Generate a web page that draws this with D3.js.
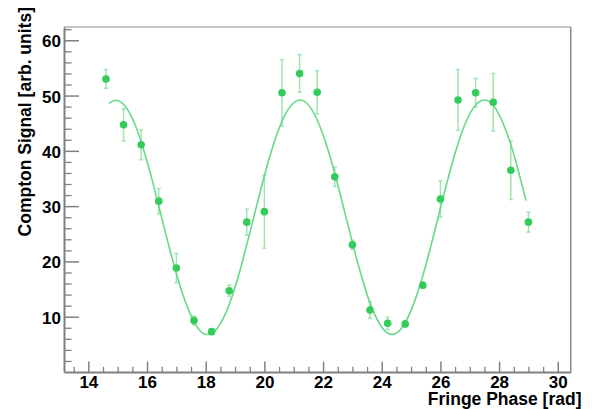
<!DOCTYPE html>
<html>
<head>
<meta charset="utf-8">
<script src="https://cdn.jsdelivr.net/npm/d3@7"></script>
<style>
  body { margin: 0; background: #fff; }
  svg { display: block; }
  .tick text { font-family: "Liberation Sans", Arial, sans-serif; font-weight: bold; font-size: 17px; fill: #000; }
</style>
</head>
<body>
<svg id="chart" width="592" height="409"></svg>
<script>
// measured points (phase in rad, signal, error)
var phase  = [14.6, 15.2, 15.8, 16.4, 17.0, 17.6, 18.2, 18.8, 19.4, 20.0, 20.6, 21.2, 21.8,
              22.4, 23.0, 23.6, 24.2, 24.8, 25.4, 26.0, 26.6, 27.2, 27.8, 28.4, 29.0];
var signal = [53.0, 44.7, 41.1, 30.9, 18.8, 9.3, 7.3, 14.7, 27.1, 29.0, 50.5, 54.0, 50.6,
              35.3, 23.0, 11.2, 8.8, 8.7, 15.7, 31.3, 49.2, 50.5, 48.8, 36.5, 27.1];
var errors = [1.7, 2.9, 2.7, 2.3, 2.65, 0.8, 0.5, 1.0, 2.35, 6.6, 6.0, 3.4, 3.9,
              1.75, 0.8, 1.5, 1.1, 0.6, 0.6, 3.3, 5.5, 2.6, 5.2, 5.3, 1.8];

// fit curve
var fitX = [14.7, 15.0, 15.4, 15.8, 16.2, 16.6, 17.0, 17.4, 17.8, 18.1, 18.4, 18.8, 19.2, 19.6,
            20.0, 20.4, 20.8, 21.2, 21.6, 22.0, 22.4, 22.8, 23.2, 23.6, 24.0, 24.35, 24.7,
            25.1, 25.5, 25.9, 26.3, 26.7, 27.1, 27.5, 27.9, 28.3, 28.6, 28.92];
var fitY = [48.6, 49.1, 46.9, 41.6, 34.2, 25.8, 17.8, 11.4, 7.5, 6.8, 7.9, 12.2, 19.0, 27.2,
            35.5, 42.6, 47.4, 49.2, 47.6, 42.9, 35.9, 27.6, 19.4, 12.5, 8.1, 6.8, 8.1,
            12.5, 19.3, 27.5, 35.8, 42.9, 47.6, 49.2, 47.5, 42.7, 37.5, 31.0];

var xMajor = [14, 16, 18, 20, 22, 24, 26, 28, 30];
var yMajor = [10, 20, 30, 40, 50, 60];

var svg = d3.select("#chart");
var pLeft = 64, pRight = 570.7, pTop = 27, pBottom = 372;

var x = d3.scaleLinear().domain([13.17, 30.44]).range([pLeft, pRight]);
var y = d3.scaleLinear().domain([0, 62.4]).range([pBottom, pTop]);

// frame top / right
svg.append("line").attr("x1", pLeft).attr("x2", pRight).attr("y1", pTop).attr("y2", pTop)
  .attr("stroke", "#8a8a8a").attr("stroke-width", 1);
svg.append("line").attr("x1", pRight).attr("x2", pRight).attr("y1", pTop).attr("y2", pBottom)
  .attr("stroke", "#8a8a8a").attr("stroke-width", 1.5);

// minor ticks
var xMinor = d3.range(13.5, 30.3, 0.5).filter(function(v) { return v % 2 !== 0; });
var yMinor = d3.range(2, 62.1, 2).filter(function(v) { return v % 10 !== 0; });

svg.append("g").attr("transform", "translate(0," + pBottom + ")")
  .call(d3.axisBottom(x).tickValues(xMinor).tickSize(-5.2).tickFormat(""))
  .call(function(g) { g.select(".domain").remove(); g.selectAll("line").attr("stroke", "#808080").attr("stroke-width", 1.3); });
svg.append("g").attr("transform", "translate(" + pLeft + ",0)")
  .call(d3.axisLeft(y).tickValues(yMinor).tickSize(-7.6).tickFormat(""))
  .call(function(g) { g.select(".domain").remove(); g.selectAll("line").attr("stroke", "#808080").attr("stroke-width", 1.3); });

// major ticks + labels
var xAxis = svg.append("g").attr("transform", "translate(0," + pBottom + ")")
  .call(d3.axisBottom(x).tickValues(xMajor).tickSizeInner(-10.4).tickSizeOuter(0).tickPadding(4).tickFormat(d3.format("d")));
var yAxis = svg.append("g").attr("transform", "translate(" + pLeft + ",0)")
  .call(d3.axisLeft(y).tickValues(yMajor).tickSizeInner(-15).tickSizeOuter(0).tickPadding(3).tickFormat(d3.format("d")));
[xAxis, yAxis].forEach(function(g) {
  g.select(".domain").attr("stroke", "#808080").attr("stroke-width", 2);
  g.selectAll(".tick line").attr("stroke", "#808080").attr("stroke-width", 1.5);
});
yAxis.selectAll(".tick text").attr("dy", "0.38em");

// error bars
var pts = phase.map(function(p, i) { return {x: p, y: signal[i], e: errors[i]}; });
var eb = svg.append("g").attr("stroke", "#9fe6b0").attr("stroke-width", 1.5);
pts.forEach(function(d) {
  eb.append("line").attr("x1", x(d.x)).attr("x2", x(d.x)).attr("y1", y(d.y - d.e)).attr("y2", y(d.y + d.e));
  [d.y - d.e, d.y + d.e].forEach(function(v) {
    eb.append("line").attr("x1", x(d.x) - 2).attr("x2", x(d.x) + 2).attr("y1", y(v)).attr("y2", y(v));
  });
});

// fit curve
var line = d3.line().x(function(d) { return x(d[0]); }).y(function(d) { return y(d[1]); }).curve(d3.curveNatural);
svg.append("path").datum(fitX.map(function(v, i) { return [v, fitY[i]]; }))
  .attr("d", line).attr("fill", "none").attr("stroke", "#66da85").attr("stroke-width", 1.6);

// markers
svg.append("g").selectAll("circle").data(pts).enter().append("circle")
  .attr("cx", function(d) { return x(d.x); })
  .attr("cy", function(d) { return y(d.y); })
  .attr("r", 3.8)
  .attr("fill", "#33cc5a");

// axis titles
svg.append("text").attr("x", 581.5).attr("y", 404.5).attr("text-anchor", "end")
  .style("font-family", "Liberation Sans, Arial, sans-serif").style("font-weight", "bold").style("font-size", "17.5px")
  .text("Fringe Phase [rad]");
svg.append("text").attr("transform", "translate(30.5,7) rotate(-90)").attr("text-anchor", "end")
  .style("font-family", "Liberation Sans, Arial, sans-serif").style("font-weight", "bold").style("font-size", "17.5px")
  .text("Compton Signal [arb. units]");
</script>
</body>
</html>
